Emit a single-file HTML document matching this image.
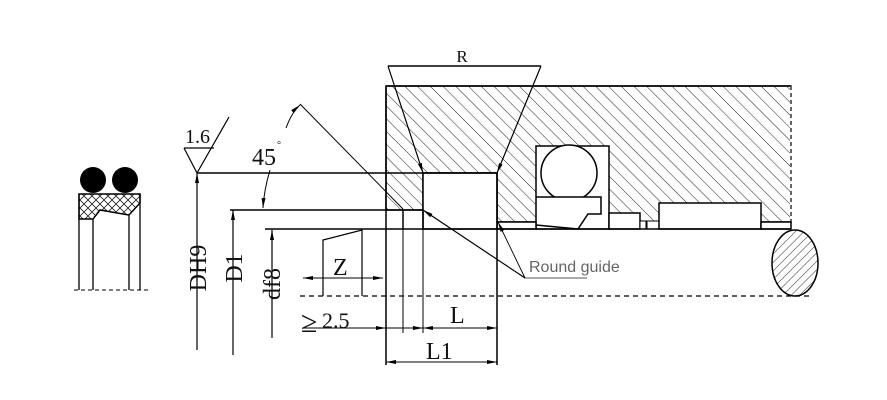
<!DOCTYPE html>
<html><head><meta charset="utf-8"><style>
html,body{margin:0;padding:0;background:#fff}
svg{display:block}
text{font-family:"Liberation Serif",serif;fill:#111}
</style></head><body>
<svg width="887" height="400" viewBox="0 0 887 400" xmlns="http://www.w3.org/2000/svg">
<defs>
<pattern id="h" patternUnits="userSpaceOnUse" width="9" height="9" patternTransform="rotate(-45)">
<line x1="0" y1="0" x2="0" y2="9" stroke="#222" stroke-width="1"/>
</pattern>
<pattern id="h2" patternUnits="userSpaceOnUse" width="6" height="6" patternTransform="rotate(45)">
<line x1="0" y1="0" x2="0" y2="6" stroke="#222" stroke-width="0.9"/>
</pattern>
<pattern id="x" patternUnits="userSpaceOnUse" width="8" height="8">
<path d="M0 0L8 8M8 0L0 8" stroke="#222" stroke-width="0.8"/>
</pattern>
<marker id="a" markerWidth="10" markerHeight="6" refX="10" refY="3" orient="auto" markerUnits="userSpaceOnUse"><path d="M0 1L10 3L0 5Z" fill="#000"/></marker>
</defs>
<g stroke="#000" fill="none" stroke-width="1.5">
<path d="M386 86H791V222H497V173H423V210H386Z" fill="url(#h)"/>
<path d="M386 86H791" />
<path d="M791 86V222" stroke="#fff" stroke-width="2"/>
<path d="M791 86V222" stroke-dasharray="4 3" stroke-width="1.2"/>
<rect x="536" y="146" width="73" height="83" fill="#fff"/>
<circle cx="569" cy="173" r="28" fill="#fff"/>
<path d="M536 197H601V214H588L578 229" fill="#fff"/>
<path d="M536 225L578 229"/>
<rect x="609" y="213" width="31" height="16" fill="#fff"/>
<rect x="640" y="221" width="6" height="8" fill="#fff" stroke-width="1"/>
<rect x="647" y="221" width="12" height="8" fill="#fff" stroke-width="1"/>
<rect x="659" y="203" width="102" height="26" fill="#fff"/>
<rect x="497" y="222" width="39" height="7" fill="#fff"/>
<rect x="761" y="222" width="30" height="7" fill="#fff"/>
<rect x="423" y="173" width="74" height="56" fill="#fff"/>
<path d="M386 210H423V229M403 210V229"/>
<path d="M197 173H497M230 210H386M265 229H791"/>
<path d="M386 86V365M497 173V365"/>
<path d="M403 229V333M423 229V333" stroke-width="1"/>
<path d="M388 66H541"/>
<path d="M388 66L423 173" marker-end="url(#a)" stroke-width="1.2"/>
<path d="M541 66L497 173" marker-end="url(#a)" stroke-width="1.2"/>
<path d="M300 104L403 209" stroke-width="1"/>
<path d="M286 128Q292 112 300 105" marker-end="url(#a)" stroke-width="1"/>
<path d="M270 170Q264 190 263 208" marker-end="url(#a)" stroke-width="1"/>
<path d="M184 148H214M184 148L197 173L229 117" stroke-width="1.2"/>
<path d="M197 350V173" marker-end="url(#a)" stroke-width="1.2"/>
<path d="M233 355V210" marker-end="url(#a)" stroke-width="1.2"/>
<path d="M272 338V230" marker-end="url(#a)" stroke-width="1.2"/>
<path d="M323 296V240L362 230V296" stroke-width="1.2"/>
<path d="M342 278H303" marker-end="url(#a)" stroke-width="1"/>
<path d="M342 278H383" marker-end="url(#a)" stroke-width="1"/>
<path d="M300 296H812" stroke-dasharray="5 4" stroke-width="1.2"/>
<path d="M303 328H386" stroke-width="1"/>
<path d="M370 328H386" marker-end="url(#a)" stroke-width="1"/>
<path d="M386 328H497" stroke-width="1"/>
<path d="M410 328H423" marker-end="url(#a)" stroke-width="1"/>
<path d="M440 328H423" marker-end="url(#a)" stroke-width="1"/>
<path d="M480 328H497" marker-end="url(#a)" stroke-width="1"/>
<path d="M441 362H386" marker-end="url(#a)" stroke-width="1"/>
<path d="M441 362H497" marker-end="url(#a)" stroke-width="1"/>
<path d="M525 278H587" stroke="#777" stroke-width="1.2"/>
<path d="M525 278L423 210" marker-end="url(#a)" stroke-width="1.2"/>
<path d="M525 278L498 222" marker-end="url(#a)" stroke-width="0.9"/>
<ellipse cx="795" cy="263" rx="23" ry="33" fill="url(#h2)"/>
<path d="M79 194H140V203L129 215L100 210L93 219H79Z" fill="url(#x)"/>
<path d="M79 194V290M140 194V290M93 219V290M129 215V290" stroke-width="1.3"/>
<path d="M74 290H148" stroke-dasharray="4 3" stroke-width="1.1"/>
</g>
<circle cx="93" cy="180" r="13" fill="#000"/>
<circle cx="125" cy="180" r="13" fill="#000"/>
<text x="462" y="62" font-size="17" text-anchor="middle">R</text>
<text x="185" y="143" font-size="20">1.6</text>
<text x="252" y="165" font-size="24">45</text>
<text x="277" y="148" font-size="10">°</text>
<text x="333" y="275" font-size="24">Z</text>
<text x="301" y="332" font-size="30">≥</text>
<text x="322" y="328" font-size="22">2.5</text>
<text x="450" y="323" font-size="24">L</text>
<text x="426" y="359" font-size="24">L1</text>
<text x="529" y="272" font-size="16" style="font-family:'Liberation Sans',sans-serif;fill:#666">Round guide</text>
<text transform="translate(206,268) rotate(-90)" font-size="24" text-anchor="middle">DH9</text>
<text transform="translate(242,268) rotate(-90)" font-size="24" text-anchor="middle">D1</text>
<text transform="translate(280,284) rotate(-90)" font-size="24" text-anchor="middle">df8</text>
</svg>
</body></html>
